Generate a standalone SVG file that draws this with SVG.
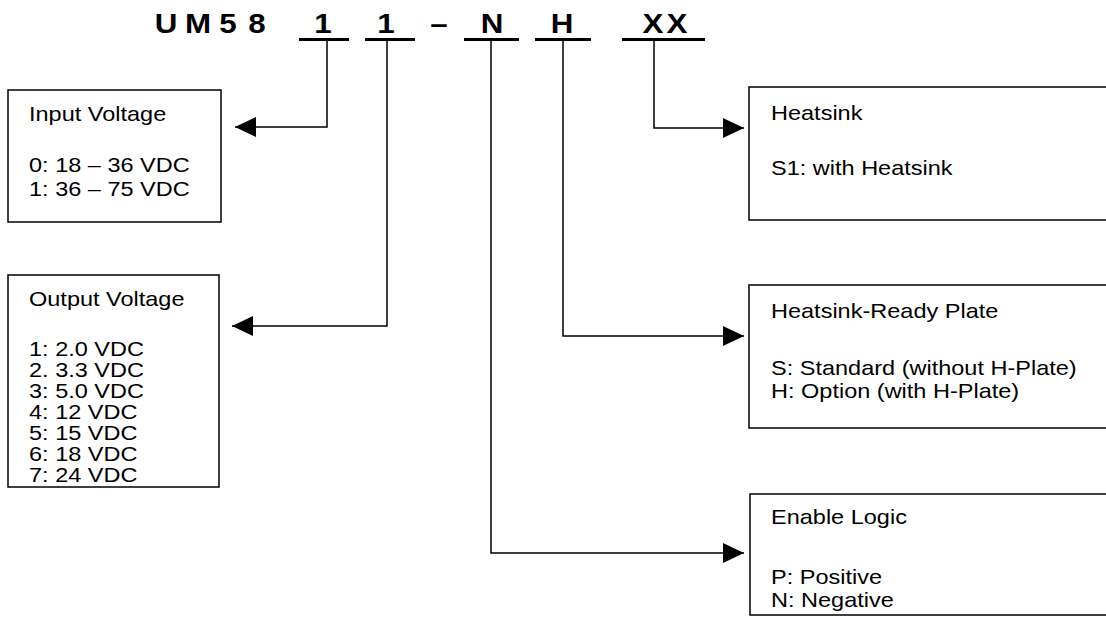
<svg xmlns="http://www.w3.org/2000/svg" width="1106" height="617" viewBox="0 0 1106 617">
<style>
.hdr{font-family:"Liberation Sans",Arial,sans-serif;font-weight:bold;font-size:28px;fill:#000;text-anchor:middle}
.t{font-family:"Liberation Sans",Arial,sans-serif;font-size:21px;fill:#000}
.box{fill:#fff;stroke:#000;stroke-width:1.5}
.ul{stroke:#000;stroke-width:3}
.ln{fill:none;stroke:#000;stroke-width:1.5}
</style>
<defs>
<marker id="ah" markerUnits="userSpaceOnUse" markerWidth="21" markerHeight="20" refX="21" refY="10" orient="auto">
<path d="M0,0 L21,10 L0,20 z" fill="#000"/>
</marker>
</defs>
<rect width="1106" height="617" fill="#fff"/>
<g id="header">
<text class="hdr" transform="translate(166,33) scale(1.12,1)">U</text>
<text class="hdr" transform="translate(198,33) scale(1.12,1)">M</text>
<text class="hdr" transform="translate(228,33) scale(1.12,1)">5</text>
<text class="hdr" transform="translate(257,33) scale(1.12,1)">8</text>
<text class="hdr" transform="translate(323,33) scale(1.12,1)">1</text>
<text class="hdr" transform="translate(386,33) scale(1.12,1)">1</text>
<text class="hdr" transform="translate(439,33) scale(1.12,1)">–</text>
<text class="hdr" transform="translate(492,33) scale(1.12,1)">N</text>
<text class="hdr" transform="translate(562,33) scale(1.12,1)">H</text>
<text class="hdr" transform="translate(653,33) scale(1.12,1)">X</text>
<text class="hdr" transform="translate(677,33) scale(1.12,1)">X</text>
<line class="ul" x1="299" y1="39.5" x2="349" y2="39.5"/>
<line class="ul" x1="365" y1="39.5" x2="415" y2="39.5"/>
<line class="ul" x1="464" y1="39.5" x2="519" y2="39.5"/>
<line class="ul" x1="535" y1="39.5" x2="591" y2="39.5"/>
<line class="ul" x1="622" y1="39.5" x2="705" y2="39.5"/>
</g>
<g id="connectors">
<polyline class="ln" points="327,41 327,127 235,127" marker-end="url(#ah)"/>
<polyline class="ln" points="387,41 387,326 232,326" marker-end="url(#ah)"/>
<polyline class="ln" points="654,41 654,128 744,128" marker-end="url(#ah)"/>
<polyline class="ln" points="563,41 563,336 744,336" marker-end="url(#ah)"/>
<polyline class="ln" points="491,41 491,553 744,553" marker-end="url(#ah)"/>
</g>
<g id="input-voltage">
<rect class="box" x="8" y="90" width="213" height="132"/>
<text class="t" transform="translate(29,121) scale(1.12,1)">Input Voltage</text>
<text class="t" transform="translate(29,172) scale(1.12,1)">0: 18 – 36 VDC</text>
<text class="t" transform="translate(29,196) scale(1.12,1)">1: 36 – 75 VDC</text>
</g>
<g id="output-voltage">
<rect class="box" x="8" y="275" width="211" height="212"/>
<text class="t" transform="translate(29,306) scale(1.12,1)">Output Voltage</text>
<text class="t" transform="translate(29,356) scale(1.12,1)">1: 2.0 VDC</text>
<text class="t" transform="translate(29,377) scale(1.12,1)">2. 3.3 VDC</text>
<text class="t" transform="translate(29,398) scale(1.12,1)">3: 5.0 VDC</text>
<text class="t" transform="translate(29,419) scale(1.12,1)">4: 12 VDC</text>
<text class="t" transform="translate(29,440) scale(1.12,1)">5: 15 VDC</text>
<text class="t" transform="translate(29,461) scale(1.12,1)">6: 18 VDC</text>
<text class="t" transform="translate(29,482) scale(1.12,1)">7: 24 VDC</text>
</g>
<g id="heatsink">
<rect class="box" x="749" y="87" width="380" height="133"/>
<text class="t" transform="translate(771,120) scale(1.12,1)">Heatsink</text>
<text class="t" transform="translate(771,175) scale(1.12,1)">S1: with Heatsink</text>
</g>
<g id="heatsink-ready-plate">
<rect class="box" x="749" y="285" width="380" height="143"/>
<text class="t" transform="translate(771,318) scale(1.12,1)">Heatsink-Ready Plate</text>
<text class="t" transform="translate(771,375) scale(1.12,1)">S: Standard (without H-Plate)</text>
<text class="t" transform="translate(771,398) scale(1.12,1)">H: Option (with H-Plate)</text>
</g>
<g id="enable-logic">
<rect class="box" x="750" y="494" width="380" height="121"/>
<text class="t" transform="translate(771,524) scale(1.12,1)">Enable Logic</text>
<text class="t" transform="translate(771,584) scale(1.12,1)">P: Positive</text>
<text class="t" transform="translate(771,607) scale(1.12,1)">N: Negative</text>
</g>
</svg>
